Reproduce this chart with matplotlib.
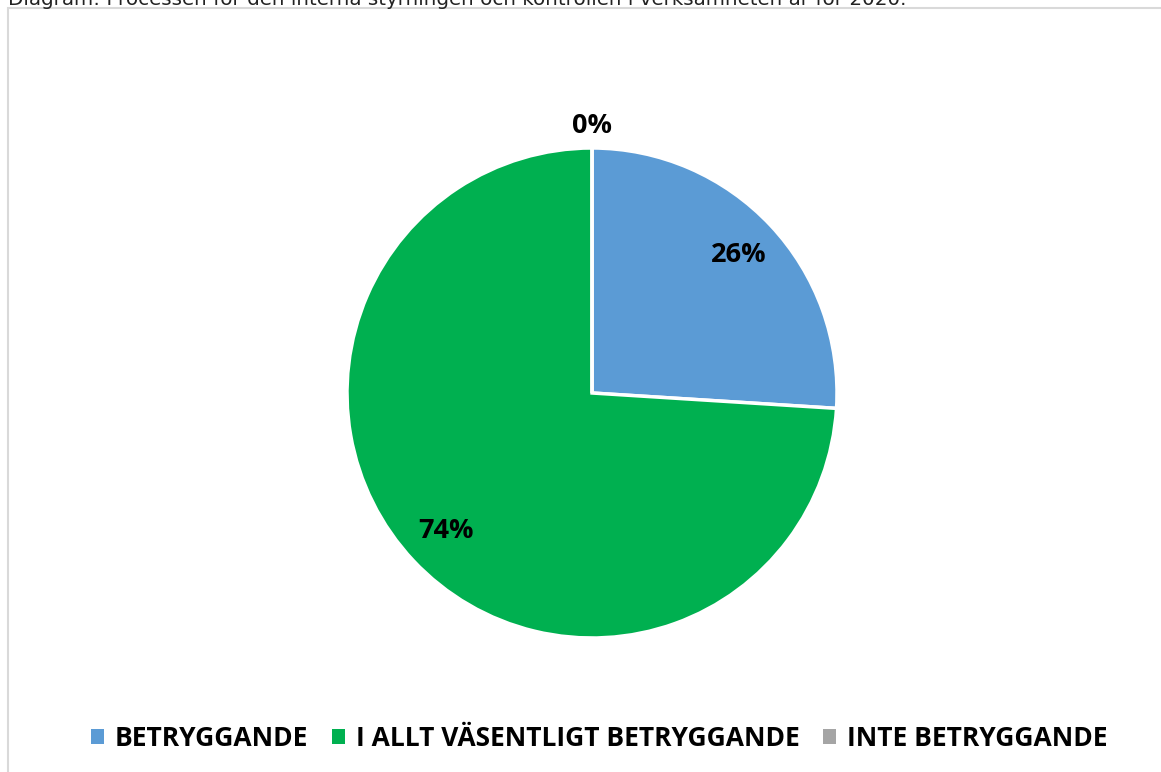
import numpy as np
import matplotlib
matplotlib.use("Agg")
import matplotlib.pyplot as plt
from matplotlib.patches import Rectangle

categories = ["BETRYGGANDE", "I ALLT VÄSENTLIGT BETRYGGANDE", "INTE BETRYGGANDE"]
values = [26, 74, 0]
colors = ["#5B9BD5", "#00B050", "#A5A5A5"]
title = "Diagram: Processen för den interna styrningen och kontrollen i verksamheten år för 2020."

W, H = 1161, 772
fig = plt.figure(figsize=(W / 100, H / 100), dpi=100)
fig.patch.set_facecolor("white")

# chart frame, open on the right side
fig.patches.append(Rectangle((8 / W, -0.01), 1.2, (H - 8) / H + 0.01,
                             transform=fig.transFigure, fill=False,
                             edgecolor="#d9d9d9", linewidth=1.5))

fig.text(8 / W, 1 - 5 / H, title, ha="left", va="baseline",
         fontsize=14.3, family="DejaVu Sans", color="#222222")

cx, cy, r = 592, 393, 245
ax = fig.add_axes([(cx - r) / W, (H - cy - r) / H, 2 * r / W, 2 * r / H])
wedges, _ = ax.pie(values, colors=colors, startangle=90, counterclock=False,
                   wedgeprops=dict(edgecolor="white", linewidth=2.5),
                   radius=1.0)
ax.set_xlim(-1, 1)
ax.set_ylim(-1, 1)
ax.set_aspect("equal")

for w, v in zip(wedges, values):
    ang = np.deg2rad((w.theta1 + w.theta2) / 2)
    d = 0.82 if v > 0 else 1.09
    ax.text(d * np.cos(ang), d * np.sin(ang), f"{v}%", ha="center", va="center",
            fontsize=19.5, fontweight="bold", family="Open Sans", color="black")

leg = fig.legend(wedges, categories, loc="center", bbox_to_anchor=(0.516, 1 - 738 / H),
                 ncol=3, frameon=False, handlelength=0.5, handleheight=0.5,
                 handletextpad=0.4, columnspacing=0.9,
                 prop=dict(family="Open Sans", weight="bold", size=19))
for h in leg.legend_handles:
    h.set_edgecolor("none")

fig.savefig("out.png", dpi=100, facecolor="white")
